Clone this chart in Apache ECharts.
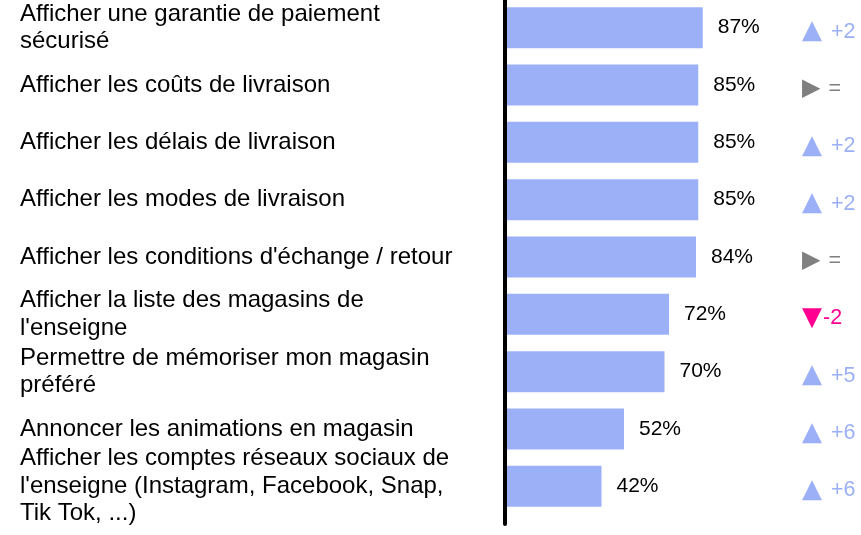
<!DOCTYPE html>
<html>
<head>
<meta charset="utf-8">
<script src="https://cdn.jsdelivr.net/npm/echarts@6/dist/echarts.min.js"></script>
<style>
  html, body { margin: 0; padding: 0; background: #fff; }
  #chart { width: 861px; height: 535px; }
</style>
</head>
<body>
<div id="chart"></div>
<script>
// categories (line breaks as in the original slide)
const categories = [
  "Afficher une garantie de paiement\nsécurisé",
  "Afficher les coûts de livraison",
  "Afficher les délais de livraison",
  "Afficher les modes de livraison",
  "Afficher les conditions d'échange / retour",
  "Afficher la liste des magasins de\nl'enseigne",
  "Permettre de mémoriser mon magasin\npréféré",
  "Annoncer les animations en magasin",
  "Afficher les comptes réseaux sociaux de\nl'enseigne (Instagram, Facebook, Snap,\nTik Tok, ...)"
];
const values = [87, 85, 85, 85, 84, 72, 70, 52, 42];
// evolution en points
const changes = [2, 0, 2, 2, 0, -2, 5, 6, 6];

const FONT = "'Liberation Sans', Arial, sans-serif";
const SYM = "'DejaVu Sans', sans-serif";
const BLUE = '#9cb0f8';
const PINK = '#ff0090';
const GREY = '#808080';

const chart = echarts.init(document.getElementById('chart'));

function changeLabel(v, i) {
  const c = changes[i];
  if (c > 0) return '{up|▲}{upt| +' + c + '}';
  if (c < 0) return '{dn|▼}{dnt|' + c + '}';
  return '{eq|▶}{eqt| =}';
}

chart.setOption({
  animation: false,
  backgroundColor: '#fff',
  grid: { left: 507, top: -1, height: 516, width: 225, outerBoundsMode: 'none' },
  xAxis: {
    type: 'value', min: 0, max: 100, show: false
  },
  yAxis: [
    {
      type: 'category',
      data: categories,
      inverse: true,
      offset: 2,
      axisLine: { show: false },
      axisTick: { show: false },
      splitLine: { show: false },
      axisLabel: {
        align: 'left',
        margin: 485,
        color: '#000',
        fontFamily: FONT,
        fontSize: 24,
        lineHeight: 27.5
      }
    },
    {
      type: 'category',
      data: categories,
      inverse: true,
      position: 'right',
      axisLine: { show: false },
      axisTick: { show: false },
      splitLine: { show: false },
      axisLabel: {
        align: 'left',
        margin: 70,
        padding: [8, 0, 0, 0],
        fontFamily: FONT,
        formatter: changeLabel,
        rich: {
          up: { color: BLUE, fontSize: 26, fontFamily: SYM },
          upt: { color: BLUE, fontSize: 21.5, fontFamily: FONT, padding: [0, 0, 0, 3] },
          dn: { color: PINK, fontSize: 26, fontFamily: SYM },
          dnt: { color: PINK, fontSize: 21.5, fontFamily: FONT, padding: [0, 0, 0, 1] },
          eq: { color: GREY, fontSize: 24, fontFamily: SYM },
          eqt: { color: GREY, fontSize: 21.5, fontFamily: FONT, padding: [0, 0, 0, 2] }
        }
      }
    }
  ],
  series: [
    {
      type: 'bar',
      data: values,
      barWidth: 41,
      itemStyle: { color: BLUE },
      label: {
        show: true,
        position: 'right',
        distance: 15,
        color: '#000',
        fontFamily: FONT,
        fontSize: 21,
        formatter: '{c}%'
      }
    }
  ]
});

// vertical rule at the origin, running a bit below the last band as in the original
const x0 = chart.convertToPixel({ gridIndex: 0 }, [0, 0])[0] - 2;
chart.setOption({
  graphic: [{
    type: 'line',
    z: 100,
    shape: { x1: x0, y1: 0, x2: x0, y2: 524 },
    style: { stroke: '#000', lineWidth: 4, lineCap: 'round' }
  }]
});
</script>
</body>
</html>
